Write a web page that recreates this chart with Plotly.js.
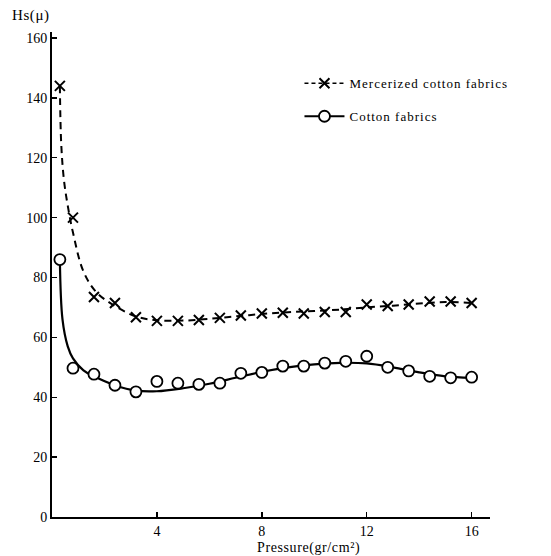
<!DOCTYPE html>
<html>
<head>
<meta charset="utf-8">
<script src="https://cdn.plot.ly/plotly-3.0.1.min.js"></script>
<style>html,body{margin:0;padding:0;background:#fff;}#chart{width:551px;height:556px;}
.legendtext{letter-spacing:1px;}
.annotation-text{letter-spacing:0.6px;}
</style>
</head>
<body>
<div id="chart"></div>
<script>
// Measured points
const pressure = [0.3, 0.8, 1.6, 2.4, 3.2, 4.0, 4.8, 5.6, 6.4, 7.2, 8.0, 8.8, 9.6, 10.4, 11.2, 12.0, 12.8, 13.6, 14.4, 15.2, 16.0];
const mercerized = [144, 100, 73.5, 71.5, 66.7, 65.5, 65.5, 65.8, 66.5, 67.3, 68, 68.2, 68, 68.5, 68.5, 71, 70.5, 71, 72, 72, 71.5];
const cotton = [86, 49.7, 47.7, 44, 41.8, 45.3, 44.7, 44.3, 44.7, 48, 48.3, 50.4, 50.4, 51.4, 52, 53.7, 50, 48.8, 47, 46.5, 46.7];

// Fitted curves
const mercCurveX = [0.3, 0.35, 0.45, 0.6, 0.8, 1.2, 1.7, 2.4, 3.2, 4, 5, 6, 7, 8, 9, 10, 11, 12, 13, 14, 15, 16];
const mercCurveY = [144, 125, 113, 104, 95, 82, 75, 70.5, 67, 65.7, 65.6, 66.2, 67, 67.8, 68.4, 68.8, 69.3, 70, 70.6, 71.3, 71.8, 71.5];
const cottonCurveX = [0.3, 0.4, 0.6, 0.8, 1.2, 1.6, 2.4, 3.2, 4, 5, 6, 7, 8, 9, 10, 11, 12, 13, 14, 15, 16];
const cottonCurveY = [86, 66, 57, 53, 49, 47, 44, 42.2, 42, 43, 44.5, 46.5, 48.5, 50, 51, 51.5, 51.3, 50, 48.3, 47, 46.5];

const xTicks = [4, 8, 12, 16];
const yTicks = [0, 20, 40, 60, 80, 100, 120, 140, 160];
const seriesNames = ['Mercerized cotton fabrics', 'Cotton fabrics'];

const font = 'Liberation Serif, DejaVu Serif, serif';

const traces = [
  {x: mercCurveX, y: mercCurveY, mode: 'lines', line: {shape: 'spline', smoothing: 1, color: '#000', width: 2, dash: '7px,5px'}, showlegend: false, hoverinfo: 'skip'},
  {x: cottonCurveX, y: cottonCurveY, mode: 'lines', line: {shape: 'spline', smoothing: 1, color: '#000', width: 2.2}, showlegend: false, hoverinfo: 'skip'},
  {x: pressure, y: mercerized, mode: 'markers', marker: {symbol: 'x-thin-open', size: 10, color: '#000', line: {color: '#000', width: 2}}, showlegend: false},
  {x: pressure, y: cotton, mode: 'markers', marker: {symbol: 'circle', size: 11, color: '#fff', line: {color: '#000', width: 1.8}}, showlegend: false},
  // legend entries
  {x: [null], y: [null], name: seriesNames[0], legendgroup: 'a', mode: 'lines+markers', line: {color: '#000', width: 1.5, dash: '4px,3px'}, marker: {symbol: 'x-thin-open', size: 10, color: '#000', line: {color: '#000', width: 2}}},
  {x: [null], y: [null], name: seriesNames[1], legendgroup: 'b', mode: 'lines+markers', line: {color: '#000', width: 2}, marker: {symbol: 'circle', size: 11, color: '#fff', line: {color: '#000', width: 1.8}}}
];

const layout = {
  width: 551, height: 556,
  margin: {l: 52, r: 61, t: 32, b: 39},
  paper_bgcolor: '#fff', plot_bgcolor: '#fff',
  font: {family: font, size: 14, color: '#000'},
  showlegend: true,
  legend: {x: 0.565, y: 0.925, xanchor: 'left', yanchor: 'top', bgcolor: 'rgba(0,0,0,0)', font: {family: font, size: 13}, tracegroupgap: 13, itemwidth: 40},
  xaxis: {
    range: [0, 16.7], tickvals: xTicks, ticktext: xTicks.map(String),
    showline: true, linecolor: '#000', linewidth: 2, ticks: 'inside', ticklen: 5, tickwidth: 1.5, tickcolor: '#000',
    showgrid: false, zeroline: false,
    tickfont: {family: font, size: 14}
  },
  yaxis: {
    range: [0, 162], tickvals: yTicks, ticktext: yTicks.map(String),
    showline: true, linecolor: '#000', linewidth: 2, ticks: 'inside', ticklen: 5, tickwidth: 1.5, tickcolor: '#000',
    showgrid: false, zeroline: false,
    tickfont: {family: font, size: 14}
  },
  annotations: [
    {text: 'Hs(μ)', xref: 'paper', yref: 'paper', x: -0.048, y: 1.035, xanchor: 'center', yanchor: 'middle', showarrow: false, font: {family: font, size: 15}},
    {text: 'Pressure(gr/cm²)', xref: 'paper', yref: 'paper', x: 0.585, y: -0.064, xanchor: 'center', yanchor: 'middle', showarrow: false, font: {family: font, size: 14}}
  ]
};

Plotly.newPlot('chart', traces, layout, {displayModeBar: false, staticPlot: true});
</script>
</body>
</html>
